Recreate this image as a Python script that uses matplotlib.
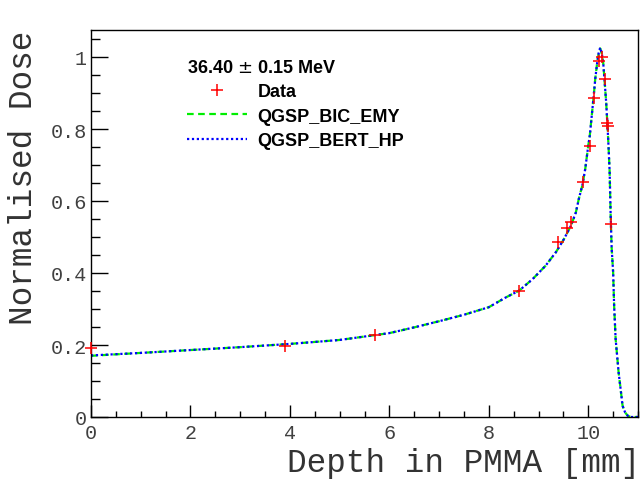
import matplotlib
matplotlib.use("Agg")
import matplotlib.pyplot as plt
from matplotlib.ticker import MultipleLocator

# simulated depth-dose curves
depth_sim = [0, 1, 2, 3, 4, 5, 6, 6.5, 7, 7.5,
             8, 8.34, 8.61, 8.88, 9.14, 9.35, 9.51, 9.65, 9.75, 9.81,
             9.88, 9.94, 10.0, 10.03, 10.07, 10.11, 10.14, 10.18, 10.21, 10.24,
             10.27, 10.30, 10.33, 10.36, 10.39, 10.41, 10.43, 10.45, 10.47, 10.50,
             10.52, 10.55, 10.61, 10.65, 10.69, 10.74, 10.79, 10.85, 11.0]
dose_bic = [0.170, 0.178, 0.186, 0.194, 0.203, 0.214, 0.233, 0.249, 0.266, 0.284,
            0.305, 0.332, 0.351, 0.383, 0.420, 0.458, 0.494, 0.531, 0.568, 0.606,
            0.643, 0.690, 0.754, 0.781, 0.837, 0.893, 0.939, 0.985, 1.010, 1.024,
            1.010, 0.985, 0.930, 0.874, 0.800, 0.744, 0.680, 0.560, 0.470, 0.402,
            0.309, 0.217, 0.124, 0.078, 0.031, 0.013, 0.004, 0.0, 0.0]
dose_bert = [0.171, 0.178, 0.186, 0.194, 0.203, 0.214, 0.233, 0.249, 0.266, 0.284,
             0.305, 0.332, 0.351, 0.383, 0.420, 0.458, 0.494, 0.531, 0.568, 0.606,
             0.643, 0.690, 0.754, 0.781, 0.837, 0.893, 0.939, 0.985, 1.012, 1.026,
             1.012, 0.985, 0.930, 0.874, 0.800, 0.744, 0.680, 0.560, 0.470, 0.402,
             0.309, 0.217, 0.124, 0.078, 0.031, 0.013, 0.004, 0.0, 0.0]

# measured points
depth_data = [0.0, 3.91, 5.71, 8.61, 9.40, 9.57, 9.65, 9.89, 10.03, 10.12,
              10.22, 10.28, 10.34, 10.37, 10.39, 10.45]
dose_data = [0.193, 0.197, 0.228, 0.349, 0.487, 0.524, 0.543, 0.652, 0.754, 0.885,
             0.988, 0.999, 0.940, 0.818, 0.807, 0.536]

mono = "Liberation Mono"
sans = "Liberation Sans"

fig = plt.figure(figsize=(6.41, 4.81), dpi=100)
ax = fig.add_axes([91 / 641, 63 / 481, 547 / 641, 387 / 481])

ax.plot(depth_sim, dose_bic, color="#00ee00", lw=1.6, ls=(0, (3, 2)), label="QGSP_BIC_EMY")
ax.plot(depth_sim, dose_bert, color="#0000ff", lw=1.6, ls=(0, (1, 1.2)), label="QGSP_BERT_HP")
ax.plot(depth_data, dose_data, ls="none", marker="+", ms=8.5, mew=1.1, color="red",
        label="Data", clip_on=False, zorder=5)

ax.set_xlim(0, 11)
ax.set_ylim(0, 1.075)

ax.xaxis.set_major_locator(MultipleLocator(2))
ax.xaxis.set_minor_locator(MultipleLocator(0.5))
ax.yaxis.set_major_locator(MultipleLocator(0.2))
ax.yaxis.set_minor_locator(MultipleLocator(0.05))
ax.xaxis.set_major_formatter(plt.FuncFormatter(lambda v, p: "%g" % v))
ax.yaxis.set_major_formatter(plt.FuncFormatter(lambda v, p: "%g" % round(v, 2)))

ax.tick_params(axis="both", which="both", direction="in", top=False, right=False,
               labelcolor="#404040", labelsize=14.5, width=1)
ax.tick_params(axis="x", which="major", length=8.5, pad=4)
ax.tick_params(axis="x", which="minor", length=4.2)
ax.tick_params(axis="y", which="major", length=12, pad=3)
ax.tick_params(axis="y", which="minor", length=6.5)
for lab in ax.get_xticklabels() + ax.get_yticklabels():
    lab.set_family(mono)
for s in ax.spines.values():
    s.set_linewidth(1)

fig.text(640 / 641, 1 - 472 / 481, "Depth in PMMA [mm]", ha="right", va="baseline",
         family=mono, fontsize=23.5, color="#333333")
fig.text(24 / 641, 1 - 31 / 481, "Normalised Dose", rotation=90, ha="center", va="top",
         family=mono, fontsize=23.5, color="#333333")

h, l = ax.get_legend_handles_labels()
order = [2, 0, 1]
leg = ax.legend([h[i] for i in order], [l[i] for i in order],
                title="36.40 $\\pm$ 0.15 MeV", alignment="left",
                loc="upper left", bbox_to_anchor=(187 / 641, 1 - 60 / 481),
                bbox_transform=fig.transFigure, frameon=False,
                prop={"family": sans, "weight": "bold", "size": 13},
                handlelength=3.3, handletextpad=0.6, labelspacing=0.41,
                borderpad=0, borderaxespad=0)
leg.get_title().set_fontproperties({"family": sans, "weight": "bold", "size": 13})

fig.savefig("out.png", dpi=100)
